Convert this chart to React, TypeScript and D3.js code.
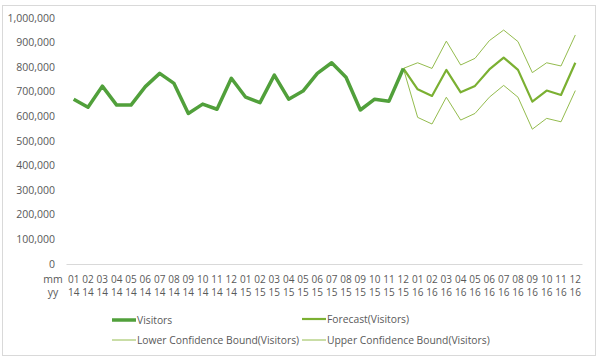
import React from 'react';
import * as d3 from 'd3';

// month / year labels for the two-level category axis
const months = ['01', '02', '03', '04', '05', '06', '07', '08', '09', '10', '11', '12'];
const years = ['14', '15', '16'];

// actual visitors, 01/14 .. 12/15
const visitors = [
  670000, 637000, 723000, 646000, 646000, 721000, 775000, 734000, 612000, 650000, 629000, 755000,
  678000, 656000, 768000, 670000, 703000, 775000, 818000, 759000, 626000, 670000, 662000, 795000,
];
// forecast + bounds, 12/15 .. 12/16
const forecast = [795000, 710000, 683000, 789000, 698000, 724000, 791000, 839000, 789000, 660000, 705000, 687000, 818000];
const upperBound = [795000, 818000, 795000, 906000, 809000, 836000, 908000, 951000, 904000, 778000, 818000, 805000, 931000];
const lowerBound = [795000, 596000, 569000, 678000, 585000, 612000, 678000, 726000, 678000, 548000, 592000, 578000, 705000];

const yTicks = [0, 100000, 200000, 300000, 400000, 500000, 600000, 700000, 800000, 900000, 1000000];

const categories = years.flatMap((yy) => months.map((mm) => `${mm}/${yy}`));

const W = 598;
const H = 360;
const FONT = '"Open Sans", sans-serif';
const TEXT = '#595959';

const App: React.FC = () => {
  const x = d3.scaleBand<string>().domain(categories).range([66.5, 582.5]);
  const y = d3.scaleLinear().domain([0, 1000000]).range([264, 18]);
  const cx = (c: string) => (x(c) ?? 0) + x.bandwidth() / 2;

  const line = d3
    .line<[string, number]>()
    .x((d) => cx(d[0]))
    .y((d) => y(d[1]));

  const fcCats = categories.slice(23); // starts at 12/15
  const visPts = visitors.map((v, i) => [categories[i], v] as [string, number]);
  const fcPts = forecast.map((v, i) => [fcCats[i], v] as [string, number]);
  const upPts = upperBound.map((v, i) => [fcCats[i], v] as [string, number]);
  const loPts = lowerBound.map((v, i) => [fcCats[i], v] as [string, number]);

  const fmt = d3.format(',');

  const legend = [
    { label: 'Visitors', x: 112, y: 320, color: '#51A03B', w: 3.5 },
    { label: 'Forecast(Visitors)', x: 302, y: 319, color: '#7BB032', w: 2.2 },
    { label: 'Lower Confidence Bound(Visitors)', x: 112, y: 340, color: '#94BC4E', w: 1 },
    { label: 'Upper Confidence Bound(Visitors)', x: 302, y: 340, color: '#94BC4E', w: 1 },
  ];

  return (
    <svg
      width={W}
      height={H}
      style={{ position: 'absolute', left: 0, top: 0, background: '#fff' }}
      fontFamily={FONT}
    >
      <rect x={2.5} y={5.5} width={593} height={350} fill="#fff" stroke="#D9D9D9" />

      {/* y axis labels */}
      {yTicks.map((t) => (
        <text key={t} x={55} y={y(t)} dy="0.35em" textAnchor="end" fontSize={10.5} fill={TEXT}>
          {fmt(t)}
        </text>
      ))}

      {/* baseline */}
      <line x1={66.5} x2={582.5} y1={y(0) + 0.5} y2={y(0) + 0.5} stroke="#D9D9D9" />

      {/* category labels */}
      <text x={53} y={279} dy="0.35em" textAnchor="middle" fontSize={10.5} fill={TEXT}>mm</text>
      <text x={53} y={292} dy="0.35em" textAnchor="middle" fontSize={10.5} fill={TEXT}>yy</text>
      {categories.map((c) => {
        const [mm, yy] = c.split('/');
        return (
          <g key={c}>
            <text x={cx(c)} y={279} dy="0.35em" textAnchor="middle" fontSize={10} fill={TEXT}>{mm}</text>
            <text x={cx(c)} y={292} dy="0.35em" textAnchor="middle" fontSize={10} fill={TEXT}>{yy}</text>
          </g>
        );
      })}

      {/* series */}
      <path d={line(upPts) ?? ''} fill="none" stroke="#94BC4E" strokeWidth={1} />
      <path d={line(loPts) ?? ''} fill="none" stroke="#94BC4E" strokeWidth={1} />
      <path d={line(fcPts) ?? ''} fill="none" stroke="#7BB032" strokeWidth={2.2} strokeLinejoin="round" />
      <path d={line(visPts) ?? ''} fill="none" stroke="#51A03B" strokeWidth={3.5} strokeLinejoin="round" />

      {/* legend */}
      {legend.map((l) => (
        <g key={l.label}>
          <line x1={l.x} x2={l.x + 24} y1={l.y} y2={l.y} stroke={l.color} strokeWidth={l.w} />
          <text x={l.x + 25} y={l.y} dy="0.35em" fontSize={10.3} fill={TEXT}>{l.label}</text>
        </g>
      ))}
    </svg>
  );
};

export default App;
